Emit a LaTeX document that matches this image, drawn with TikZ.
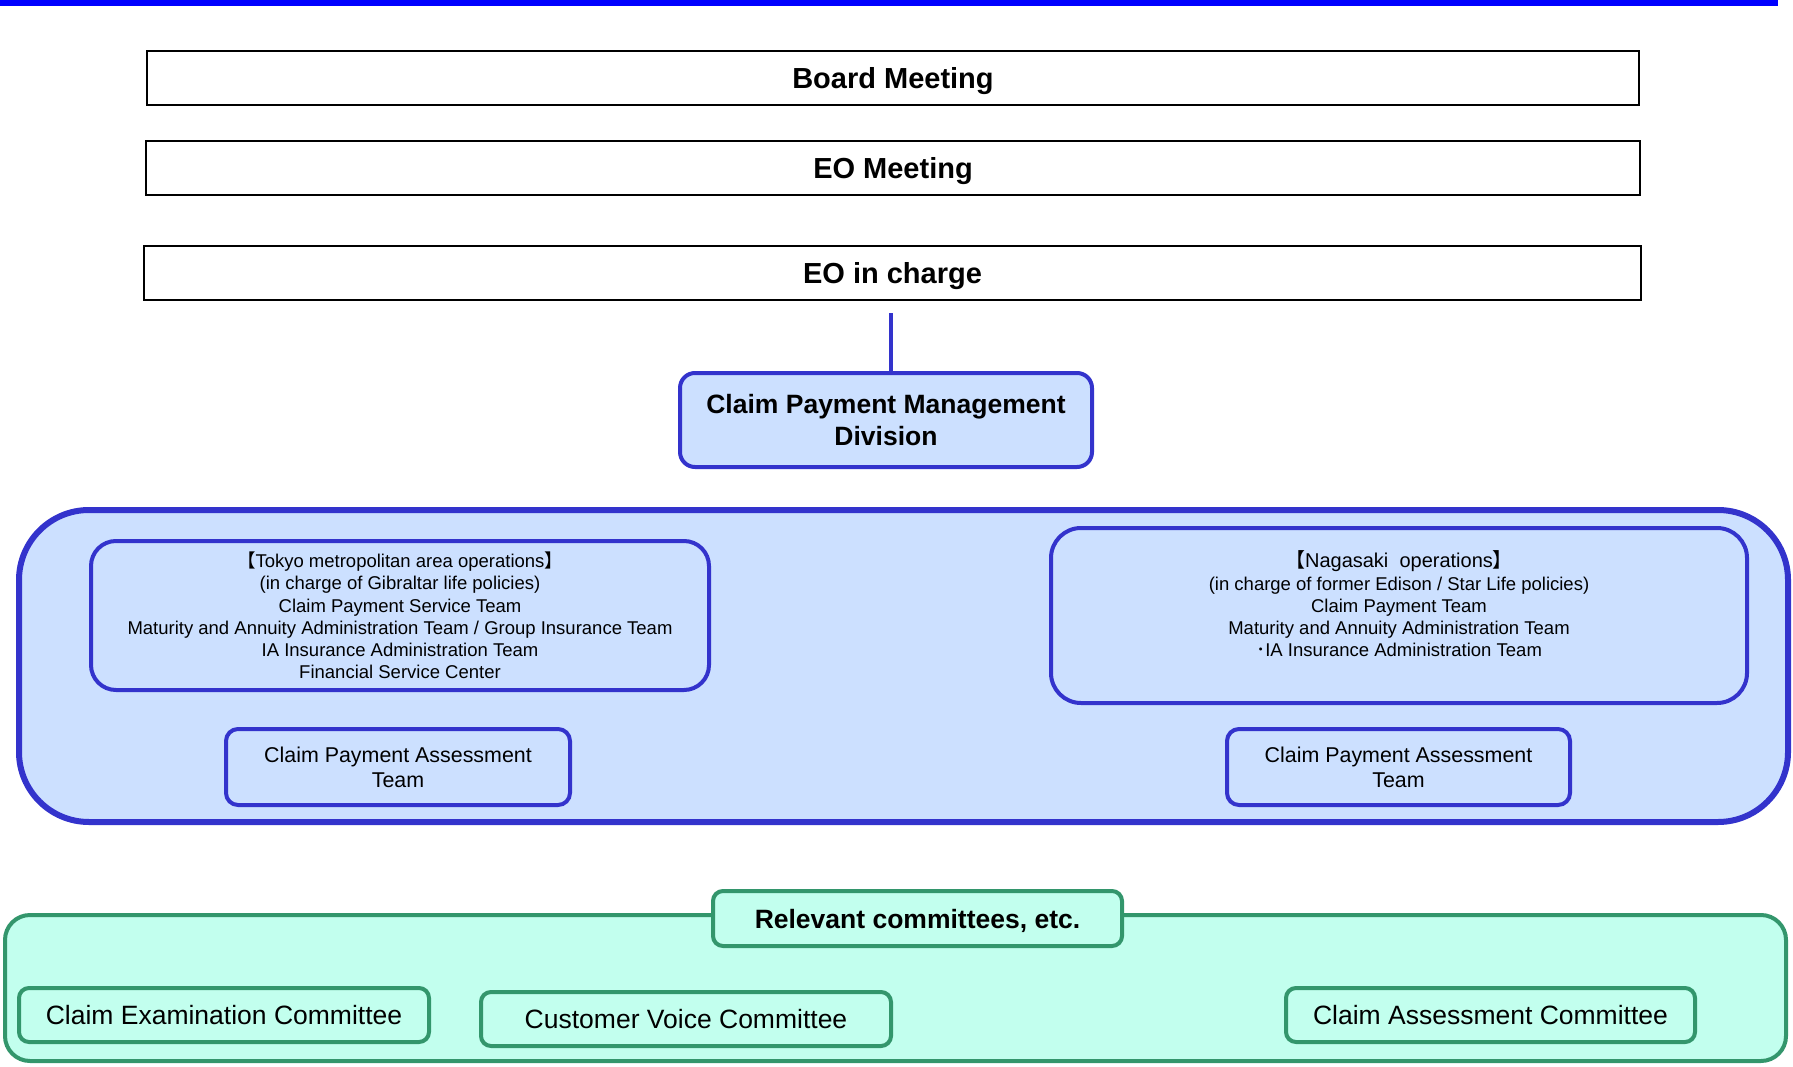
\documentclass[tikz,border=0pt]{standalone}
\usepackage{fontspec}
\setmainfont{Liberation Sans}
\newfontfamily\cjk{Noto Sans CJK JP}
\definecolor{topblue}{RGB}{0,0,255}
\definecolor{bdblue}{RGB}{51,51,204}
\definecolor{fillblue}{RGB}{204,224,255}
\definecolor{bdgreen}{RGB}{51,150,108}
\definecolor{fillgreen}{RGB}{194,255,238}
\tikzset{
  topbox/.style={draw=black, line width=2pt, fill=white, inner sep=0pt, text depth=0pt,
    font=\fontsize{29}{34}\selectfont\bfseries},
  bluebox/.style={draw=bdblue, line width=4pt, fill=fillblue, inner sep=0pt, align=center},
  greenbox/.style={draw=bdgreen, line width=4pt, fill=fillgreen, inner sep=0pt, align=center,
    rounded corners=10pt},
  smalltext/.style={font=\fontsize{18.5}{22.2}\selectfont, align=center, inner sep=0pt},
  teamtext/.style={font=\fontsize{21.4}{25}\selectfont},
  comtext/.style={font=\fontsize{26.5}{31}\selectfont, text depth=0pt},
}
\begin{document}
\begin{tikzpicture}[x=1pt,y=-1pt]
\useasboundingbox (0,0) rectangle (1793,1067);
% top line
\fill[topblue] (0,0) rectangle (1778,6);
% top boxes
\node[topbox, minimum width=1492pt, minimum height=54pt] (board) at (893,78) {Board Meeting};
\node[topbox, minimum width=1494pt, minimum height=54pt] (eom) at (893,168) {EO Meeting};
\node[topbox, minimum width=1497pt, minimum height=54pt] (eoc) at (892.5,273) {EO in charge};
% division
\node[bluebox, rounded corners=15pt, minimum width=412pt, minimum height=94pt,
  font=\fontsize{26.5}{32}\selectfont\bfseries] (cpmd) at (886,420)
  {Claim Payment Management\\Division};
\coordinate (lt) at (891,313);
\draw[bdblue, line width=4.5pt] (lt) -- (lt |- cpmd.north);
% big container
\node[bluebox, line width=6pt, rounded corners=70pt, minimum width=1769pt, minimum height=312pt]
  (big) at (903.5,666) {};
% Tokyo
\node[bluebox, rounded corners=25pt, minimum width=618pt, minimum height=149pt, smalltext]
  (tokyo) at (400,615.5)
  {{\cjk 【}Tokyo metropolitan area operations{\cjk 】}\\
   (in charge of Gibraltar life policies)\\
   Claim Payment Service Team\\
   Maturity and Annuity Administration Team / Group Insurance Team\\
   IA Insurance Administration Team\\
   Financial Service Center};
\node[bluebox, rounded corners=12pt, minimum width=344pt, minimum height=76pt, teamtext]
  (tcpat) at (398,767) {Claim Payment Assessment\\Team};
% Nagasaki
\node[bluebox, rounded corners=30pt, minimum width=696pt, minimum height=175pt]
  (naga) at (1399,615.5) {};
\node[smalltext] (nagatext) at (1399,604)
  {{\fontsize{20}{22.2}\selectfont{\cjk 【}Nagasaki\ \ operations{\cjk 】}}\\
   (in charge of former Edison / Star Life policies)\\
   Claim Payment Team\\
   Maturity and Annuity Administration Team\\
   {\cjk ･}IA Insurance Administration Team};
\node[bluebox, rounded corners=12pt, minimum width=343pt, minimum height=76pt, teamtext]
  (ncpat) at (1398.5,767) {Claim Payment Assessment\\Team};
% committees
\node[greenbox, rounded corners=25pt, minimum width=1781pt, minimum height=146pt]
  (green) at (895.5,988) {};
\node[greenbox, minimum width=409pt, minimum height=55pt, text depth=0pt,
  font=\fontsize{26.5}{31}\selectfont\bfseries] (tab) at (917.5,918.5) {Relevant committees, etc.};
\node[greenbox, minimum width=410pt, minimum height=54pt, comtext] (cec) at (224,1015)
  {Claim Examination Committee};
\node[greenbox, minimum width=410pt, minimum height=54pt, comtext] (cvc) at (686,1019)
  {Customer Voice Committee};
\node[greenbox, minimum width=409pt, minimum height=54pt, comtext] (cac) at (1490.5,1015)
  {Claim Assessment Committee};
\end{tikzpicture}
\end{document}
